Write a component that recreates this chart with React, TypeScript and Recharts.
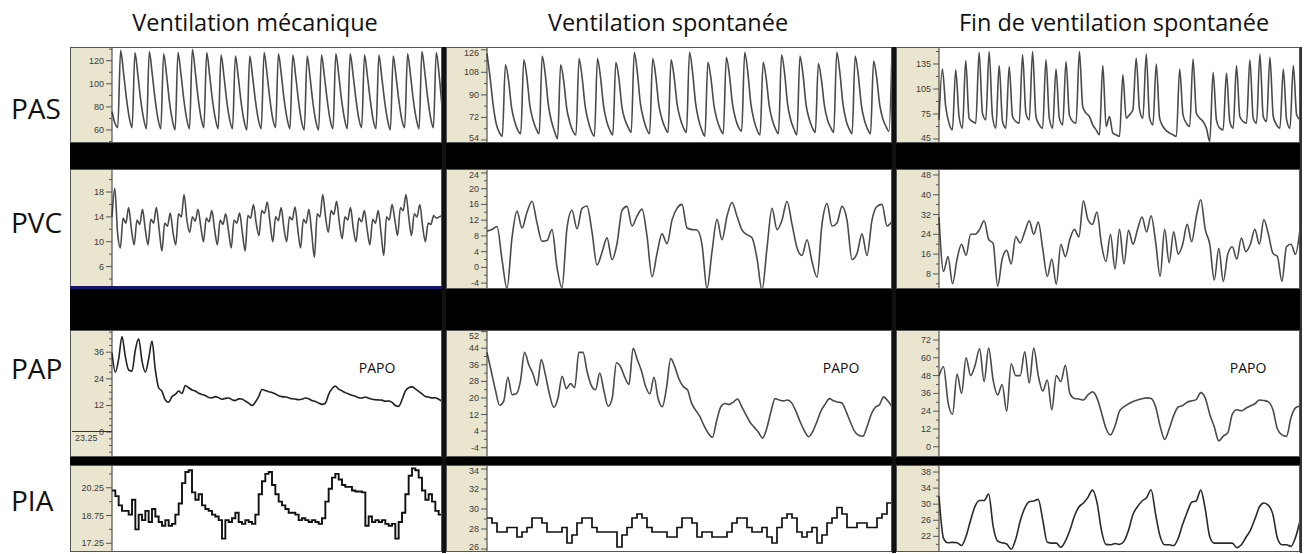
import React from "react";
import { LineChart, Line, XAxis, YAxis } from "recharts";

const titles = ["Ventilation mécanique", "Ventilation spontanée", "Fin de ventilation spontanée"];
const rowLabels = ["PAS", "PVC", "PAP", "PIA"];

// PAS (mmHg)
const pasMecaValues = [
  76, 66, 62,
  129, 110, 88, 71, 62, 127, 108, 86, 70, 61, 128, 109, 87, 70, 61, 126, 108, 85, 69, 60,
  127, 109, 87, 70, 61, 130, 111, 88, 71, 62, 127, 108, 86, 70, 61, 125, 107, 85, 69, 61,
  124, 106, 84, 68, 60, 124, 106, 85, 69, 61, 127, 109, 87, 70, 62, 126, 108, 86, 70, 61,
  125, 107, 85, 68, 60, 124, 106, 84, 68, 60, 125, 107, 86, 69, 61, 126, 108, 86, 70, 61,
  126, 108, 87, 70, 62, 125, 107, 86, 69, 61, 125, 106, 85, 69, 60, 124, 106, 85, 69, 62,
  126, 108, 86, 70, 61, 128, 110, 88, 71, 62,
  127, 108, 80,
];
const pasSpontValues = [
  123, 104, 82, 67, 60, 57,
  114, 102, 80, 69, 62, 59, 118, 104, 81, 70, 63, 59, 121, 106, 82, 69, 61, 55,
  114, 101, 79, 68, 61, 58, 119, 104, 81, 69, 61, 57, 119, 104, 81, 69, 62, 58,
  116, 103, 80, 70, 64, 60, 124, 108, 83, 71, 63, 59, 119, 105, 82, 71, 64, 60,
  118, 104, 82, 71, 64, 60, 124, 108, 83, 70, 62, 57, 116, 103, 81, 70, 63, 59,
  120, 106, 83, 71, 64, 61, 124, 108, 83, 70, 62, 58, 116, 103, 81, 70, 63, 59,
  122, 107, 82, 70, 63, 58, 121, 106, 82, 71, 64, 60, 115, 102, 81, 70, 64, 60,
  124, 108, 83, 70, 63, 59, 121, 106, 82, 70, 63, 59, 117, 104, 82, 71, 65, 61,
  124,
];
const pasFinValues = [
  68, 129, 84, 64, 56, 128, 72, 58, 139, 70,
  66, 64, 149, 76, 68, 150, 72, 58, 133, 66,
  58, 132, 72, 66, 64, 146, 76, 68, 150, 72,
  62, 58, 140, 70, 58, 129, 70, 62, 138, 74,
  66, 64, 150, 84, 76, 72, 62, 56, 50, 133,
  60, 72, 52, 50, 48, 122, 70, 74, 80, 142,
  80, 70, 147, 70, 62, 135, 70, 60, 55, 52,
  50, 48, 129, 74, 64, 60, 141, 76, 70, 66,
  58, 42, 125, 68, 58, 56, 124, 66, 58, 133,
  72, 66, 64, 140, 70, 64, 147, 72, 66, 143,
  72, 62, 58, 129, 68, 58, 133, 74, 68,
];

// PVC (mmHg)
const pvcMecaValues = [
  14, 18.6, 11.5,
  9, 13.8, 13, 15.5, 12, 9.5, 13.5, 12.8, 15.2, 12, 9.5, 13.6, 13, 15.5, 12,
  8.5, 13, 12.5, 14.6, 11.5, 9.5, 14.5, 14, 17.6, 13.5, 11.5, 14, 13.3, 15.2, 12.5,
  10, 13.8, 13.2, 15, 12, 9.5, 13.5, 12.8, 14.5, 11.8, 9, 13.5, 13, 14.6, 11.5,
  8.5, 14.2, 13.8, 16, 13, 11, 15, 14.6, 16.4, 13, 10, 14, 13.4, 15.5, 12.2,
  10, 14, 13.5, 15.6, 12, 9, 13.6, 13, 15.2, 11.5, 7.5, 14.5, 14, 17.6, 14,
  11.5, 15, 14.4, 16.5, 13, 10.5, 14, 13.5, 15.5, 12.2, 10, 13.8, 13.2, 15, 12,
  9.5, 13.6, 13, 15, 11.5, 7.8, 14, 13.5, 16, 13.5, 11, 15.5, 15, 17.6, 14,
  11, 14.5, 14, 16, 12.5, 10, 13, 12.8, 14.2, 13.8,
  14, 14.2,
];
const pvcSpontValues = [
  9.2, 9.6, 10.4, 2, -5.4, 7.5, 14.3, 10, 14, 16.8,
  11.3, 6.6, 6.8, 9.6, 0, -5.2, 10, 14.5, 9.8, 15,
  15.6, 9, 0.6, 3.8, 7.5, 2, 6, 14.5, 15.5, 10.5,
  13, 14.8, 8, -2.4, 3.5, 8.5, 6, 12, 15, 16,
  10, 9.6, 9.5, 5.8, -5.4, 4, 12.2, 7, 13, 16.5,
  13, 9.5, 8.3, 7.5, 2.3, -5.8, 4.9, 15, 9.6, 12,
  16.8, 11, 5, 3, 7, 1.5, -2.5, 11, 16.2, 10.5,
  11.3, 15.5, 12, 2, 3.5, 8.5, 3, 12, 15.5, 16,
  10.5, 11.7,
];
const pvcFinValues = [
  31, 9, 15, 4, 14, 20, 15.5, 24, 24, 26,
  29.5, 22, 20.3, 3, 14, 17.5, 12, 23, 20.5, 25,
  29.5, 24, 29, 18, 7, 14, 3.8, 20, 15, 22,
  26, 23, 37.5, 30, 28, 33, 20, 13, 24, 10,
  26, 12, 25.6, 20, 26, 31, 25, 31.5, 21, 7,
  26, 12.5, 25, 16, 20, 28, 21, 31, 38, 26,
  20, 5.5, 18.3, 5, 16, 19, 14, 22.5, 17, 20,
  26, 20, 30, 24, 16.3, 15, 5, 19, 20, 16,
  26,
];

// PAP (mmHg)
const papMecaValues = [
  35.8, 27, 33, 43, 34, 28, 27.5, 37, 42, 32,
  27, 33, 41, 28, 20, 18.4, 14.5, 13.5, 16, 17,
  18.5, 17.4, 21, 20, 19, 18.5, 17.5, 17, 16.5, 15.6,
  15.4, 16, 15.5, 14.8, 15.2, 15.4, 14.6, 14.2, 15, 14.9,
  14, 13.1, 12, 13.5, 16, 19.2, 18.8, 18.2, 17.9, 17.2,
  16.4, 16, 15.8, 15.5, 15, 14.9, 14.6, 14.8, 15.4, 15,
  14.2, 13.8, 13.1, 12.5, 13, 17, 19.5, 20.7, 19.4, 18.6,
  17.8, 17.2, 16.6, 16.2, 15.5, 15.4, 15.8, 15.3, 14.8, 14.6,
  14.5, 14.4, 13.9, 14, 13.4, 12, 11.6, 14.6, 18.5, 20,
  20.4, 19.5, 18.4, 17.2, 16.1, 15.8, 15.4, 15.5, 14.8, 13.9,
];
const papSpontValues = [
  42, 33, 24, 16.5, 18.5, 30, 21.6, 22, 28, 42,
  36, 31.7, 26, 38.5, 31, 21.5, 15.5, 20, 30.5, 24.5,
  26.9, 25, 42, 42, 32.5, 26, 24, 32, 23.5, 16,
  20, 37, 35, 30, 26.5, 44, 38.5, 33, 25.5, 22,
  30, 19.5, 15.8, 25, 39, 35, 29, 25.5, 24, 17.5,
  14, 11, 6.5, 3, 1, 9, 15.7, 17.3, 16.8, 18,
  19.5, 15.8, 12, 8.3, 5.8, 3.5, 0.6, 5.3, 13.3, 19.7,
  19, 18.6, 19, 17.5, 13.5, 8.5, 4.2, 1.3, 3.8, 8.5,
  13.8, 17, 19.7, 18.6, 18, 17.6, 13.5, 8.5, 4, 2,
  1.5, 6, 12, 15.5, 16.7, 20.5, 18.6, 15.7,
];
const papFinValues = [
  47.7, 54, 30, 22, 49, 36, 60, 48, 55, 66,
  44, 66.5, 45, 35, 42, 24, 56, 48, 48, 64,
  43, 66.5, 48, 37.6, 45, 25, 48, 44, 55, 36,
  32.6, 32.2, 31.5, 35, 37, 33, 23, 12.5, 8, 14,
  24, 27, 29, 30.6, 31.5, 32.4, 33, 32.6, 27, 14,
  5, 12, 21, 26.8, 27.8, 30, 31, 31.8, 36.5, 33,
  22, 13.5, 4, 7.2, 9.5, 22, 25, 24.3, 26, 27.5,
  29, 31.5, 31.2, 30.3, 25, 12, 8, 7, 19.5, 26.2,
  27.5,
];

// PIA (mmHg)
const piaMecaValues = [
  20.1, 19.8, 19.3, 19.0, 19.0, 18.8, 19.6, 18.0, 18.8, 18.5,
  19.0, 18.4, 19.1, 18.7, 18.4, 18.2, 18.5, 18.2, 18.3, 18.8,
  19.4, 20.5, 21.1, 21.2, 20.0, 19.6, 19.9, 19.3, 19.1, 19.0,
  18.8, 18.7, 18.5, 17.5, 18.5, 18.4, 18.6, 18.9, 18.4, 18.3,
  18.5, 18.4, 18.3, 18.8, 19.9, 20.6, 21.0, 21.1, 20.4, 19.9,
  19.5, 19.3, 19.1, 18.9, 18.9, 18.8, 18.5, 18.6, 18.5, 18.4,
  18.5, 18.4, 18.3, 18.6, 19.5, 20.2, 20.8, 21.0, 20.7, 20.4,
  20.3, 20.3, 20.1, 20.05, 20.05, 20.0, 18.2, 18.7, 18.4, 18.5,
  18.4, 18.5, 18.3, 18.2, 18.3, 17.5, 18.4, 18.9, 19.9, 20.9,
  21.3, 21.2, 20.8, 20.1, 19.6, 19.9, 19.5, 19.0, 18.8, 18.95,
];
const piaSpontValues = [
  29.1, 28.6, 27.7, 27.7, 28.15, 28.15, 27.2, 27.7, 28.15, 29.1,
  29.1, 28.6, 27.7, 27.7, 27.7, 28.15, 26.6, 27.4, 28.6, 29.1,
  29.1, 28.15, 27.7, 27.7, 27.7, 27.7, 26.2, 27.4, 28.15, 29.1,
  29.5, 29.1, 28.15, 27.7, 27.7, 27.7, 27.2, 27.2, 28.15, 29.1,
  29.1, 28.6, 27.2, 27.7, 27.7, 27.2, 27.2, 27.2, 27.7, 28.6,
  29.1, 29.1, 28.15, 27.7, 27.7, 28.15, 27.2, 26.6, 28.15, 29.1,
  29.5, 29.1, 27.7, 27.2, 27.7, 28.15, 26.6, 27.4, 28.6, 29.1,
  30.15, 29.5, 28.15, 28.15, 28.6, 28.6, 28.15, 28.15, 29.1, 29.5,
  30.6, 30.0,
];
const piaFinValues = [
  32, 21.5, 20.4, 20.5, 20.4, 19.7, 22, 26, 29.5, 30.9,
  30.9, 32.5, 24.5, 20.8, 20.4, 20.1, 18.8, 21.3, 25.8, 29,
  30.6, 30.8, 31.2, 26, 20.5, 20.3, 20.3, 19.3, 20.8, 23.5,
  27, 29.3, 30.3, 31.7, 33.5, 30.5, 23.5, 20, 19.9, 20.2,
  20, 20.8, 23.5, 27.5, 29.4, 30.8, 31.6, 33.6, 27.5, 22,
  19.9, 19.9, 19.7, 21.5, 25, 28, 30.5, 30.8, 33.5, 28.8,
  21.9, 20.3, 20.3, 20.3, 20.3, 20.3, 19.2, 19.9, 21.7, 23.5,
  26.3, 29.3, 30.3, 29.7, 27.4, 21.5, 19.9, 19.9, 19.5, 21.7,
  25.8,
];

// axis ticks
const pasMecaMajor = [60, 80, 100, 120];
const pasMecaMinor = [50, 70, 90, 110, 130];
const pasSpontMajor = [54, 72, 90, 108, 126];
const pasSpontMinor = [63, 81, 99, 117];
const pasFinMajor = [45, 75, 105, 135];
const pasFinMinor = [60, 90, 120, 150];
const pvcMecaMajor = [6, 10, 14, 18];
const pvcMecaMinor = [4, 8, 12, 16, 20];
const pvcSpontMajor = [-4, 0, 4, 8, 12, 16, 20, 24];
const pvcSpontMinor = [-2, 2, 6, 10, 14, 18, 22];
const pvcFinMajor = [8, 16, 24, 32, 40, 48];
const pvcFinMinor = [4, 12, 20, 28, 36, 44];
const papMecaMajor = [0, 12, 24, 36];
const papMecaMinor = [-9, -6, -3, 3, 6, 9, 15, 18, 21, 27, 30, 33, 39, 42, 45];
const papSpontMajor = [-4, 4, 12, 20, 28, 36, 44, 52];
const papSpontMinor = [0, 8, 16, 24, 32, 40, 48];
const papFinMajor = [0, 12, 24, 36, 48, 60, 72];
const papFinMinor = [6, 18, 30, 42, 54, 66];
const piaMecaMajor = [17.25, 18.75, 20.25];
const piaMecaMinor = [18, 19.5, 21];
const piaSpontMajor = [26, 28, 30, 32, 34];
const piaSpontMinor = [27, 29, 31, 33];
const piaFinMajor = [22, 26, 30, 34, 38];
const piaFinMinor = [20, 24, 28, 32, 36];

const BEIGE = "#e9e5cf";
const TRACE = "#4a4a4a";

const COLS = [
  { axisLeft: 70, plotLeft: 112, plotRight: 442, center: 255 },
  { axisLeft: 446, plotLeft: 487, plotRight: 892, center: 668 },
  { axisLeft: 896, plotLeft: 939, plotRight: 1300, center: 1114 },
];
const ROWS = [
  { top: 47, bottom: 143, label: 108 },
  { top: 169, bottom: 289, label: 222 },
  { top: 330, bottom: 457, label: 368 },
  { top: 465, bottom: 552, label: 500 },
];

type PanelDef = {
  row: number;
  col: number;
  values: number[];
  domain: [number, number];
  major: number[];
  minor: number[];
  step?: boolean;
  stroke?: string;
  width?: number;
};

const panels: PanelDef[] = [
  { row: 0, col: 0, values: pasMecaValues, domain: [48.7, 131.9], major: pasMecaMajor, minor: pasMecaMinor },
  { row: 0, col: 1, values: pasSpontValues, domain: [51.6, 128.2], major: pasSpontMajor, minor: pasSpontMinor },
  { row: 0, col: 2, values: pasFinValues, domain: [40.2, 155.4], major: pasFinMajor, minor: pasFinMinor },
  { row: 1, col: 0, values: pvcMecaValues, domain: [2.4, 21.7], major: pvcMecaMajor, minor: pvcMecaMinor },
  { row: 1, col: 1, values: pvcSpontValues, domain: [-5.5, 25], major: pvcSpontMajor, minor: pvcSpontMinor },
  { row: 1, col: 2, values: pvcFinValues, domain: [1.9, 50.4], major: pvcFinMajor, minor: pvcFinMinor },
  { row: 2, col: 0, values: papMecaValues, domain: [-11.2, 46], major: papMecaMajor, minor: papMecaMinor, stroke: "#222" },
  { row: 2, col: 1, values: papSpontValues, domain: [-8.5, 52.8], major: papSpontMajor, minor: papSpontMinor },
  { row: 2, col: 2, values: papFinValues, domain: [-6.9, 78.75], major: papFinMajor, minor: papFinMinor },
  { row: 3, col: 0, values: piaMecaValues, domain: [16.78, 21.48], major: piaMecaMajor, minor: piaMecaMinor, step: true, stroke: "#111", width: 1.9 },
  { row: 3, col: 1, values: piaSpontValues, domain: [25.7, 34.4], major: piaSpontMajor, minor: piaSpontMinor, step: true, stroke: "#111", width: 1.7 },
  { row: 3, col: 2, values: piaFinValues, domain: [18.1, 39.75], major: piaFinMajor, minor: piaFinMinor, stroke: "#2a2a2a" },
];

function renderTick(props: any, major: number[], h: number) {
  const { x, y, payload } = props;
  const edge = x + 8;
  const isMajor = major.includes(payload.value);
  // keep the label inside its strip so it is not cut by the black bands
  const ty = Math.min(Math.max(y, 6), h - 5);
  return (
    <g>
      <line x1={edge - (isMajor ? 6 : 3)} x2={edge} y1={y} y2={y} stroke="#555" strokeWidth={1} />
      {isMajor && (
        <text x={edge - 8} y={ty} dy={3} textAnchor="end" fontSize={9} fill="#3c3c3c" fontFamily="Liberation Sans, Arial, sans-serif">
          {payload.value}
        </text>
      )}
    </g>
  );
}

function Panel({ def }: { def: PanelDef }) {
  const c = COLS[def.col];
  const r = ROWS[def.row];
  const w = c.plotRight - c.axisLeft;
  const h = r.bottom - r.top;
  const aw = c.plotLeft - c.axisLeft;
  const data = def.values.map((v, i) => ({ i, v }));
  const ticks = [...def.major, ...def.minor]
    .filter((t) => t >= def.domain[0] && t <= def.domain[1])
    .sort((a, b) => a - b);
  return (
    <div style={{ position: "absolute", left: c.axisLeft, top: r.top, width: w, height: h }}>
      <div style={{ position: "absolute", left: 0, top: 0, width: aw, height: h, background: BEIGE }} />
      <div style={{ position: "absolute", left: aw, top: 0, width: w - aw, height: h, background: "#fff" }} />
      <div style={{ position: "absolute", left: 0, top: 0 }}>
        <LineChart width={w} height={h} data={data} margin={{ top: 0, right: 0, bottom: 0, left: 0 }}>
          <XAxis dataKey="i" type="number" domain={[0, def.values.length - 1]} hide />
          <YAxis
            type="number"
            domain={def.domain}
            allowDataOverflow
            ticks={ticks}
            interval={0}
            width={aw}
            tickLine={false}
            tickSize={6}
            tickMargin={2}
            axisLine={{ stroke: "#333" }}
            tick={(p: any) => renderTick(p, def.major, h)}
          />
          <Line
            type={def.step ? "stepAfter" : "monotone"}
            dataKey="v"
            stroke={def.stroke || TRACE}
            strokeWidth={def.width || 1.6}
            dot={false}
            isAnimationActive={false}
          />
        </LineChart>
      </div>
      <div style={{ position: "absolute", left: 0, top: 0, width: w, height: h, boxSizing: "border-box", border: "1px solid #555", pointerEvents: "none" }} />
    </div>
  );
}

const txt = "'Open Sans', 'Noto Sans', sans-serif";

export default function App() {
  return (
    <div style={{ position: "absolute", left: 0, top: 0, width: 1304, height: 554, background: "#fff", overflow: "hidden", fontFamily: txt }}>
      {titles.map((t, i) => (
        <div key={t} style={{ position: "absolute", left: COLS[i].center, top: 22, transform: "translate(-50%, -50%)", fontSize: 23.5, color: "#111", whiteSpace: "nowrap" }}>
          {t}
        </div>
      ))}
      {rowLabels.map((t, i) => (
        <div key={t} style={{ position: "absolute", left: 11, top: ROWS[i].label, transform: "translateY(-50%)", fontSize: 28, color: "#111" }}>
          {t}
        </div>
      ))}
      {panels.map((p) => (
        <Panel key={p.row + "-" + p.col} def={p} />
      ))}
      {/* black separators between the monitor strips */}
      <div style={{ position: "absolute", left: 70, top: 143, width: 1232, height: 26, background: "#000" }} />
      <div style={{ position: "absolute", left: 70, top: 289, width: 1232, height: 41, background: "#000" }} />
      <div style={{ position: "absolute", left: 70, top: 457, width: 1232, height: 8, background: "#000" }} />
      <div style={{ position: "absolute", left: 70, top: 286, width: 372, height: 3, background: "#16166a" }} />
      <div style={{ position: "absolute", left: 442, top: 47, width: 4, height: 506, background: "#111" }} />
      <div style={{ position: "absolute", left: 892, top: 47, width: 4, height: 506, background: "#111" }} />
      <div style={{ position: "absolute", left: 1300, top: 47, width: 2, height: 506, background: "#333" }} />
      {/* overlapping axis remnant in PAP panel */}
      <div style={{ position: "absolute", left: 72, top: 431, width: 40, height: 1, background: "#333" }} />
      <div style={{ position: "absolute", left: 75, top: 433, fontSize: 9, color: "#3c3c3c", fontFamily: "Liberation Sans, Arial, sans-serif" }}>23.25</div>
      {COLS.map((c, i) => (
        <div key={"papo" + i} style={{ position: "absolute", left: c.plotRight - (i === 0 ? 65 : i === 1 ? 51 : 52), top: 367, transform: "translate(-50%, -50%)", fontSize: 14, color: "#111" }}>
          PAPO
        </div>
      ))}
    </div>
  );
}
